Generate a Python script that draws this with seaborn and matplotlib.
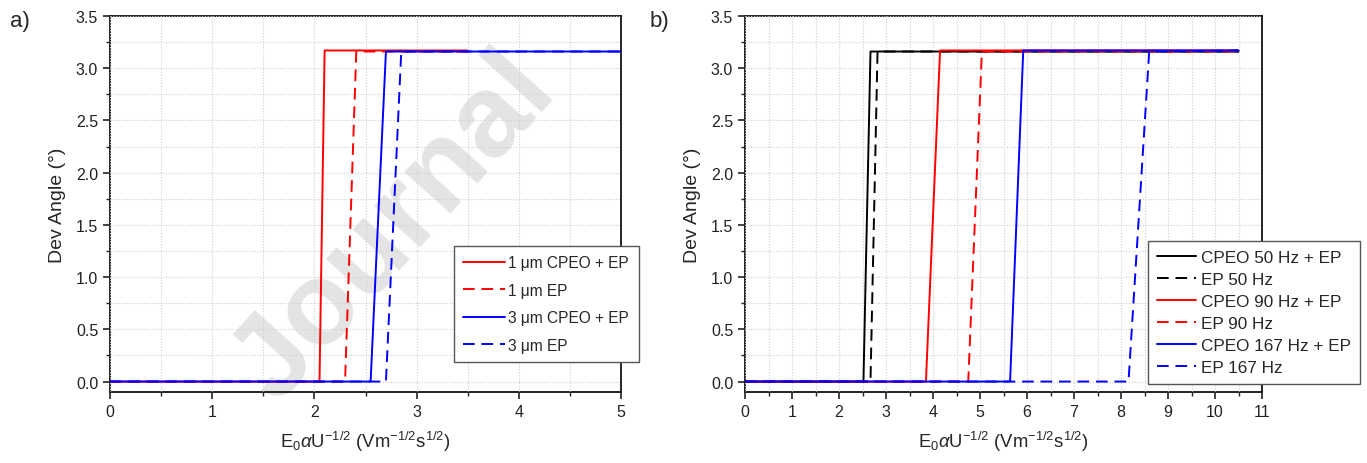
import numpy as np
import matplotlib
matplotlib.use("Agg")
import matplotlib.pyplot as plt
import seaborn as sns
from matplotlib.ticker import MultipleLocator, FormatStrFormatter

# panel a) data: particle size
a_labels = ["1 \u03bcm CPEO + EP", "1 \u03bcm EP", "3 \u03bcm CPEO + EP", "3 \u03bcm EP"]
a_colors = ["#ff0000", "#ff0000", "#0000ff", "#0000ff"]
a_dashed = [False, True, False, True]
a_x = [
    [0, 2.05, 2.10, 3.5],
    [0, 2.30, 2.41, 3.5],
    [0, 2.55, 2.70, 5.0],
    [0, 2.70, 2.85, 5.0],
]
a_y = [
    [0, 0, 3.17, 3.17],
    [0, 0, 3.16, 3.16],
    [0, 0, 3.16, 3.16],
    [0, 0, 3.16, 3.16],
]

# panel b) data: frequency
b_labels = ["CPEO 50 Hz + EP", "EP 50 Hz", "CPEO 90 Hz + EP", "EP 90 Hz",
            "CPEO 167 Hz + EP", "EP 167 Hz"]
b_colors = ["#000000", "#000000", "#ff0000", "#ff0000", "#0000ff", "#0000ff"]
b_dashed = [False, True, False, True, False, True]
b_x = [
    [0, 2.52, 2.67, 10.5],
    [0, 2.67, 2.82, 10.5],
    [0, 3.85, 4.15, 10.5],
    [0, 4.75, 5.04, 10.5],
    [0, 5.64, 5.92, 10.5],
    [0, 8.16, 8.60, 10.5],
]
b_y = [
    [0, 0, 3.16, 3.16],
    [0, 0, 3.16, 3.16],
    [0, 0, 3.17, 3.17],
    [0, 0, 3.16, 3.16],
    [0, 0, 3.17, 3.17],
    [0, 0, 3.16, 3.17],
]

sns.set_style("white")
plt.rcParams['font.family'] = ['Liberation Sans', 'DejaVu Sans']
plt.rcParams['mathtext.fontset'] = 'custom'
plt.rcParams['mathtext.rm'] = 'Liberation Sans'
plt.rcParams['mathtext.it'] = 'Liberation Sans:italic'
plt.rcParams['mathtext.default'] = 'regular'

W, H = 1367, 464
fig = plt.figure(figsize=(W / 100, H / 100), dpi=100)
ax_a = fig.add_axes([110 / W, 1 - 393 / H, (621 - 110) / W, (393 - 17) / H])
ax_b = fig.add_axes([745 / W, 1 - 393 / H, (1262 - 745) / W, (393 - 17) / H])

xlabel = r'E$_0$$\mathit{\alpha}$U$^{-1/2}$ (Vm$^{-1/2}$s$^{1/2}$)'


def style_axes(ax, xmax):
    ax.set_xlim(0, xmax)
    ax.set_ylim(-0.1, 3.5)
    ax.xaxis.set_major_locator(MultipleLocator(1))
    ax.xaxis.set_minor_locator(MultipleLocator(0.5))
    ax.yaxis.set_major_locator(MultipleLocator(0.5))
    ax.yaxis.set_minor_locator(MultipleLocator(0.25))
    ax.yaxis.set_major_formatter(FormatStrFormatter('%.1f'))
    ax.grid(True, which='both', linestyle=(0, (1, 1.5)), color='#cfcfcf', linewidth=0.8)
    ax.set_axisbelow(False)
    ax.tick_params(which='both', direction='out', bottom=True, left=True,
                   top=False, right=False, labelsize=11.5, colors='#222222')
    ax.tick_params(which='major', length=5, width=1.2)
    ax.tick_params(which='minor', length=3, width=1.0)
    for s in ax.spines.values():
        s.set_color('#111111')
        s.set_linewidth(1.3)
    ax.set_xlabel(xlabel, fontsize=13.3, labelpad=7)
    ax.set_ylabel('Dev Angle (\u00b0)', fontsize=14, labelpad=7)


# watermark behind the curves of panel a
ax_a.text(395 / W, 1 - 228 / H, 'Journal', transform=fig.transFigure, fontsize=84,
          fontweight='bold', color='#e4e4e4', rotation=48, ha='center', va='center',
          rotation_mode='anchor', zorder=1.5, clip_on=False)


def draw(ax, xs_list, ys_list, labels, colors, dashed):
    for xs, ys, lab, col, d in zip(xs_list, ys_list, labels, colors, dashed):
        kw = dict(dashes=(6, 3.5)) if d else {}
        sns.lineplot(x=xs, y=ys, ax=ax, color=col, linewidth=1.4, label=lab,
                     zorder=3, **kw)


draw(ax_a, a_x, a_y, a_labels, a_colors, a_dashed)
draw(ax_b, b_x, b_y, b_labels, b_colors, b_dashed)

style_axes(ax_a, 5)
style_axes(ax_b, 11)

leg_a = ax_a.legend(loc='upper left', bbox_to_anchor=(454 / W, 1 - 247 / H),
                    bbox_transform=fig.transFigure, borderaxespad=0,
                    fontsize=11.2, labelspacing=0.8, handlelength=2.7,
                    handletextpad=0.2, borderpad=0.6, fancybox=False,
                    framealpha=1, edgecolor='#555555')
leg_b = ax_b.legend(loc='upper left', bbox_to_anchor=(1148 / W, 1 - 242 / H),
                    bbox_transform=fig.transFigure, borderaxespad=0,
                    fontsize=12.3, labelspacing=0.42, handlelength=2.3,
                    handletextpad=0.3, borderpad=0.5, fancybox=False,
                    framealpha=1, edgecolor='#555555')
for leg in (leg_a, leg_b):
    leg.get_frame().set_linewidth(1.0)

fig.text(10 / W, 1 - 22 / H, 'a)', fontsize=16, va='center', ha='left')
fig.text(650 / W, 1 - 22 / H, 'b)', fontsize=16, va='center', ha='left')

fig.savefig('out.png', dpi=100)
